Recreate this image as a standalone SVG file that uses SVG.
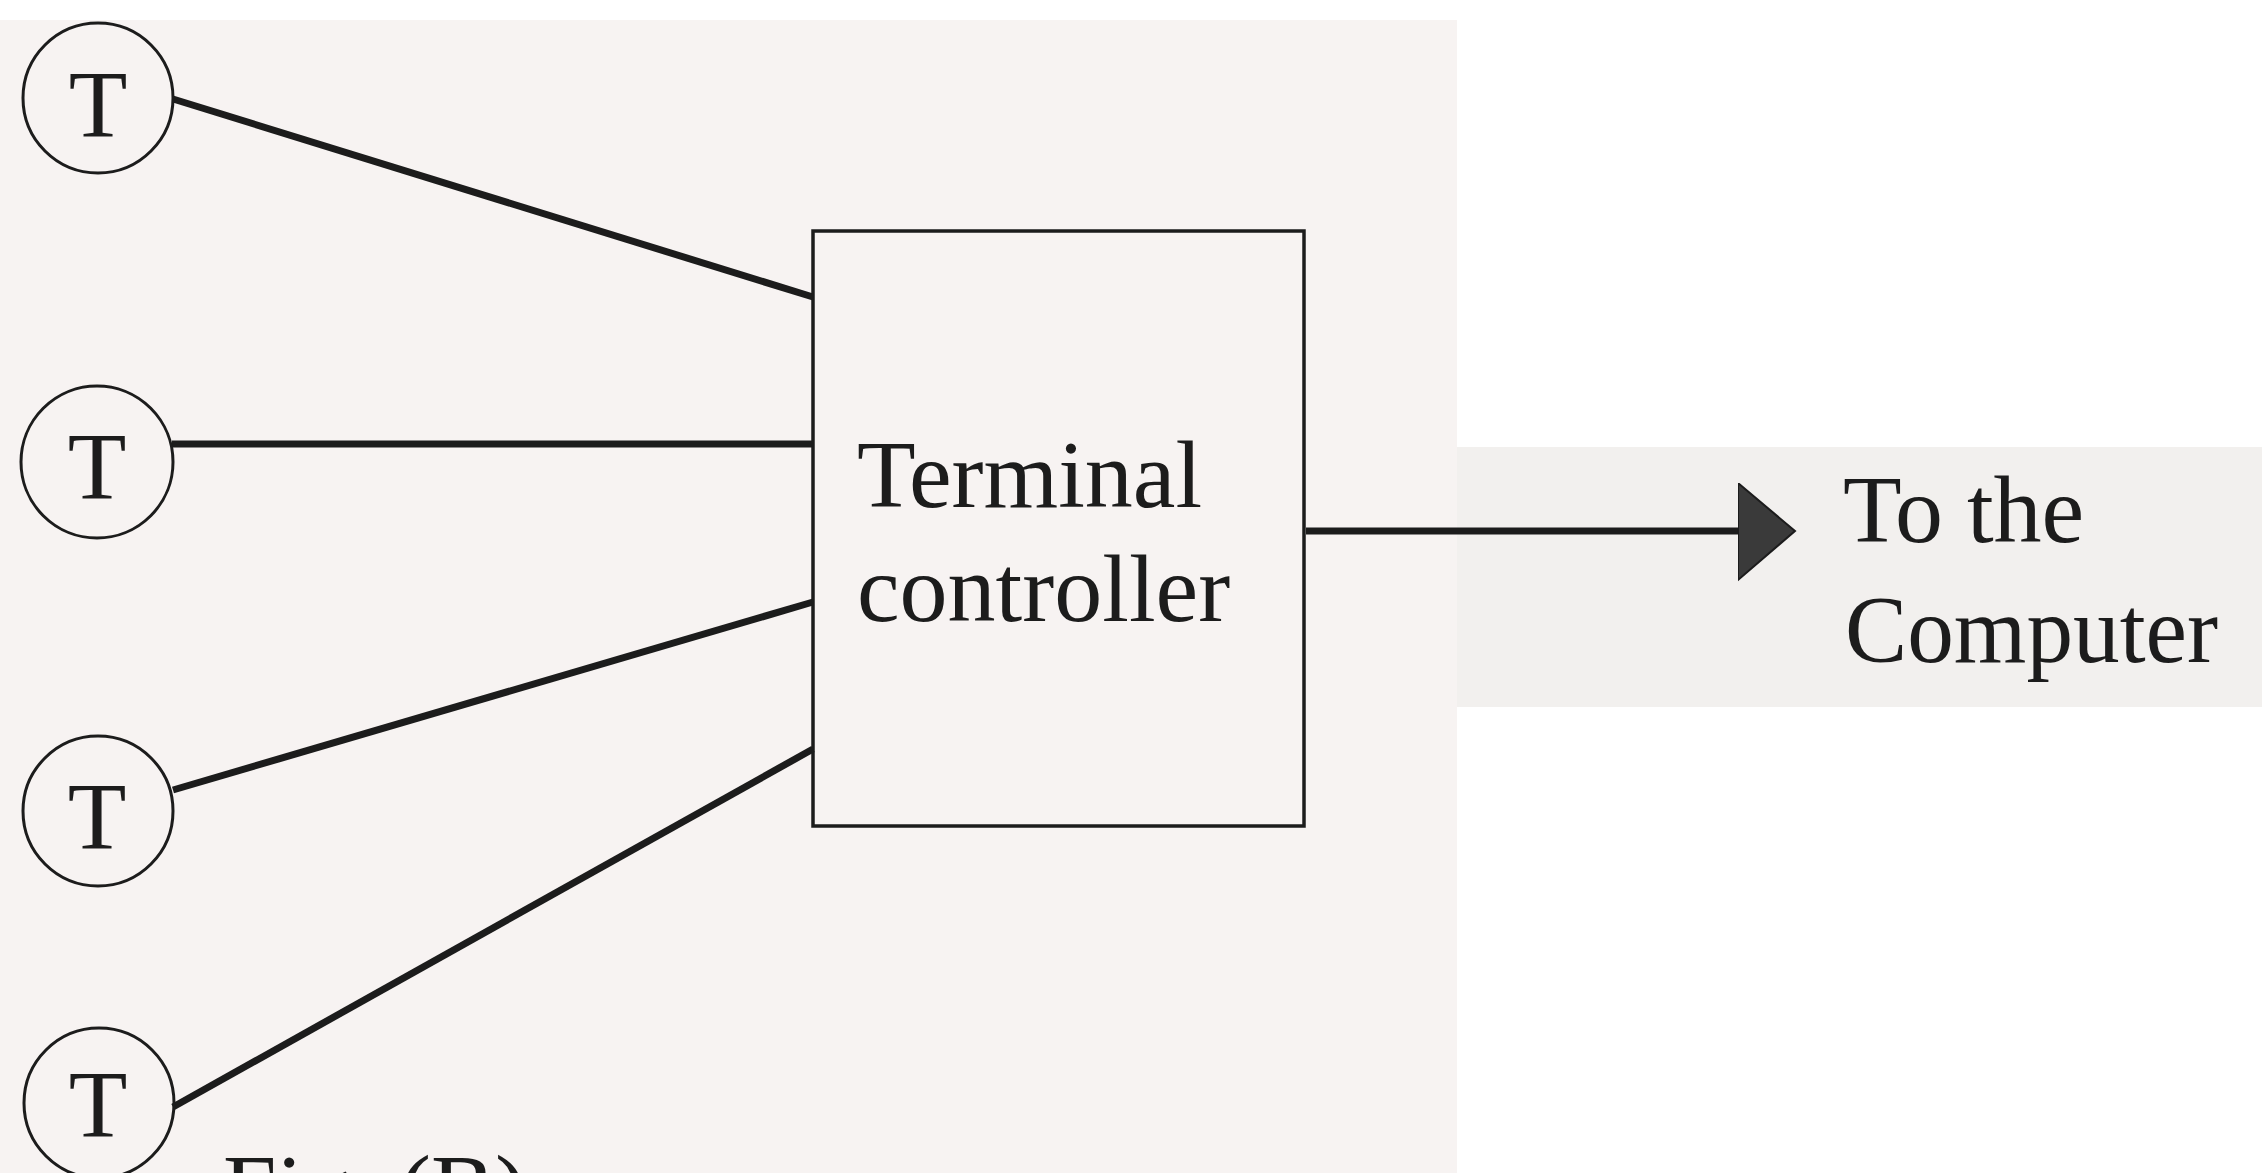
<svg xmlns="http://www.w3.org/2000/svg" width="2262" height="1173" viewBox="0 0 2262 1173">
  <style>
    .term circle { fill: none; stroke: #1c1c1c; stroke-width: 3; }
    .lbl { font-family: "Liberation Serif", "Times New Roman", serif; font-size: 96px; fill: #1c1c1c; }
    .tl { text-anchor: middle; }
    .conn line { stroke: #1c1c1c; stroke-width: 7; stroke-linecap: butt; }
    .box { fill: none; stroke: #1c1c1c; stroke-width: 3.5; }
  </style>
  <defs>
    <marker id="arrowhead" markerUnits="userSpaceOnUse" markerWidth="60" markerHeight="100" refX="0" refY="48" orient="auto" viewBox="0 0 60 100">
      <polygon points="0,0 57,48 0,97" fill="#3a3a3a" stroke="#1c1c1c" stroke-width="2"/>
    </marker>
  </defs>

  <!-- scanned page background -->
  <rect x="0" y="0" width="2262" height="1173" fill="#ffffff"/>
  <rect x="0" y="20" width="1457" height="1153" fill="#f7f3f2"/>
  <rect x="1457" y="447" width="805" height="260" fill="#f2f0ee"/>

  <g id="connectors" class="conn">
    <line x1="173" y1="99" x2="813" y2="297"/>
    <line x1="172" y1="444" x2="813" y2="444"/>
    <line x1="173" y1="790" x2="813" y2="602"/>
    <line x1="173" y1="1107" x2="813" y2="749"/>
    <line x1="1306" y1="531" x2="1738" y2="531" marker-end="url(#arrowhead)"/>
  </g>

  <g id="terminal1" class="term">
    <circle cx="98" cy="98" r="75"/>
    <text class="lbl tl" x="98" y="137">T</text>
  </g>
  <g id="terminal2" class="term">
    <circle cx="97" cy="462" r="76"/>
    <text class="lbl tl" x="97" y="499">T</text>
  </g>
  <g id="terminal3" class="term">
    <circle cx="98" cy="811" r="75"/>
    <text class="lbl tl" x="97" y="849">T</text>
  </g>
  <g id="terminal4" class="term">
    <circle cx="99" cy="1103" r="75"/>
    <text class="lbl tl" x="98" y="1137">T</text>
  </g>

  <g id="terminal-controller">
    <rect class="box" x="813" y="231" width="491" height="595"/>
    <text class="lbl" x="857" y="507">Terminal</text>
    <text class="lbl" x="857" y="621">controller</text>
  </g>

  <g id="computer">
    <text class="lbl" x="1843" y="542">To the</text>
    <text class="lbl" x="1845" y="662" textLength="373" lengthAdjust="spacingAndGlyphs">Computer</text>
  </g>

  <g id="caption">
    <text class="lbl" x="223" y="1221">Fig. (B)</text>
  </g>
</svg>
